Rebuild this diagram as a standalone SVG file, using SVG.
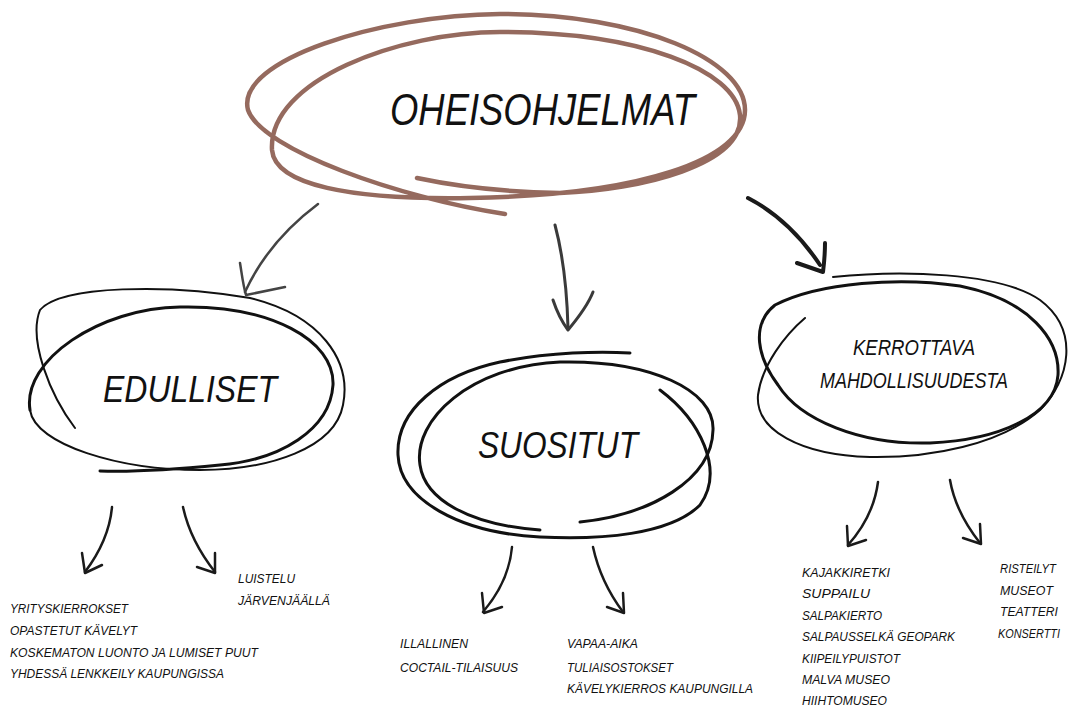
<svg xmlns="http://www.w3.org/2000/svg" width="1073" height="709" viewBox="0 0 1073 709">
<style>
.bg{fill:#ffffff}
.brown{fill:none;stroke:#956a5e;stroke-width:4.5;stroke-linecap:round;stroke-linejoin:round}
.loop{fill:none;stroke:#111;stroke-width:3;stroke-linecap:round;stroke-linejoin:round}
.thin{fill:none;stroke:#111;stroke-width:2;stroke-linecap:round}
.arr{fill:none;stroke:#1a1a1a;stroke-width:2.5;stroke-linecap:round;stroke-linejoin:round}
.head{font-family:"Liberation Sans",Arial,sans-serif;font-style:italic;fill:#111}
.item{font-family:"Liberation Sans",Arial,sans-serif;font-style:italic;font-size:13.5px;fill:#111}
.itemr{font-family:"Liberation Sans",Arial,sans-serif;font-style:italic;font-size:12.5px;fill:#111}
</style>
<rect class="bg" x="0" y="0" width="1073" height="709"/>
<g id="connectors">
  <path class="arr" style="stroke:#444" d="M318 204 C290 225 262 255 245 292"/>
  <path class="arr" style="stroke:#444" d="M240 263 C242 275 243 285 246 295 L285 287"/>
  <path class="arr" style="stroke:#3a3a3a;stroke-width:3" d="M555 225 C563 255 567 290 568 328"/>
  <path class="arr" style="stroke:#3a3a3a;stroke-width:3" d="M553 300 C557 312 562 322 568 330 C578 318 588 305 593 292"/>
  <path class="arr" style="stroke-width:4" d="M748 198 C775 212 800 235 820 265"/>
  <path class="arr" style="stroke-width:4" d="M825 243 C825 255 824 264 823 272 L797 263"/>
  <path class="arr" d="M112 507 C110 530 100 552 85 572"/>
  <path class="arr" d="M82 553 L85 573 L102 565"/>
  <path class="arr" d="M183 507 C188 530 200 553 215 572"/>
  <path class="arr" d="M215 553 L215 573 L197 567"/>
  <path class="arr" d="M512 547 C510 570 500 592 483 612"/>
  <path class="arr" d="M482 593 L484 613 L502 607"/>
  <path class="arr" d="M593 547 C598 570 608 592 623 612"/>
  <path class="arr" d="M623 593 L624 613 L607 607"/>
  <path class="arr" d="M878 482 C875 505 865 526 848 545"/>
  <path class="arr" d="M847 526 L848 546 L866 540"/>
  <path class="arr" d="M950 480 C954 503 965 524 980 543"/>
  <path class="arr" d="M980 524 L981 544 L963 538"/>
</g>
<g id="node-oheisohjelmat">
  <path class="brown" d="M505 214 C400 198 262 150 248 110 C235 60 380 15 500 14 C640 14 745 60 745 110 C745 160 640 195 470 198 C350 200 275 185 272 150 C268 80 400 32 500 32 C640 32 735 70 740 115 C745 165 640 190 560 193 C500 192 450 185 417 178"/>
  <text class="head" x="390" y="125" font-size="44" textLength="305" lengthAdjust="spacingAndGlyphs">OHEISOHJELMAT</text>
</g>
<g id="node-edulliset">
  <path class="thin" d="M75 428 C50 395 28 340 40 310 C60 285 170 284 250 298 C320 315 352 360 343 405 C335 448 270 470 200 470 C120 470 35 445 30 410"/>
  <path class="loop" d="M30 410 C22 360 100 308 180 307 C270 305 335 340 333 385 C330 430 280 460 220 465 C170 470 130 472 100 471"/>
  <text class="head" x="103" y="402" font-size="36" textLength="174" lengthAdjust="spacingAndGlyphs">EDULLISET</text>
</g>
<g id="node-suositut">
  <path class="loop" d="M660 390 C700 420 725 470 700 505 C670 535 600 540 540 537 C460 533 400 500 398 455 C396 410 440 375 500 362 C550 352 600 351 630 353"/>
  <path class="loop" d="M540 530 C470 525 425 500 420 465 C413 420 470 366 560 362 C650 360 715 390 713 430 C712 480 650 515 580 522"/>
  <text class="head" x="478" y="458" font-size="37" textLength="160" lengthAdjust="spacingAndGlyphs">SUOSITUT</text>
</g>
<g id="node-kerrottava">
  <path class="thin" d="M805 318 C785 335 762 365 758 395 C755 430 800 455 870 457 C930 458 1000 445 1040 410 C1070 380 1080 330 1040 300 C1000 272 900 270 833 277"/>
  <path class="loop" d="M775 305 C820 282 900 277 960 286 C1030 300 1060 340 1058 375 C1055 415 1000 440 930 443 C860 445 800 420 778 385 C758 358 750 325 775 305 Z"/>
  <text class="head" x="853" y="355" font-size="22" textLength="122" lengthAdjust="spacingAndGlyphs">KERROTTAVA</text>
  <text class="head" x="820" y="388" font-size="22" textLength="188" lengthAdjust="spacingAndGlyphs">MAHDOLLISUUDESTA</text>
</g>
<g id="list-edulliset">
  <text class="item" x="10" y="613" textLength="118" lengthAdjust="spacingAndGlyphs">YRITYSKIERROKSET</text>
  <text class="item" x="10" y="635" textLength="127" lengthAdjust="spacingAndGlyphs">OPASTETUT KÄVELYT</text>
  <text class="item" x="10" y="657" textLength="248" lengthAdjust="spacingAndGlyphs">KOSKEMATON LUONTO JA LUMISET PUUT</text>
  <text class="item" x="10" y="678" textLength="214" lengthAdjust="spacingAndGlyphs">YHDESSÄ LENKKEILY KAUPUNGISSA</text>
  <text class="item" x="238" y="583" textLength="57" lengthAdjust="spacingAndGlyphs">LUISTELU</text>
  <text class="item" x="238" y="605" textLength="92" lengthAdjust="spacingAndGlyphs">JÄRVENJÄÄLLÄ</text>
</g>
<g id="list-suositut">
  <text class="item" x="400" y="648" textLength="68" lengthAdjust="spacingAndGlyphs">ILLALLINEN</text>
  <text class="item" x="400" y="672" textLength="118" lengthAdjust="spacingAndGlyphs">COCTAIL-TILAISUUS</text>
  <text class="item" x="567" y="648" textLength="71" lengthAdjust="spacingAndGlyphs">VAPAA-AIKA</text>
  <text class="item" x="567" y="672" textLength="106" lengthAdjust="spacingAndGlyphs">TULIAISOSTOKSET</text>
  <text class="item" x="567" y="693" textLength="186" lengthAdjust="spacingAndGlyphs">KÄVELYKIERROS KAUPUNGILLA</text>
</g>
<g id="list-kerrottava">
  <text class="item" x="802" y="577" textLength="88" lengthAdjust="spacingAndGlyphs">KAJAKKIRETKI</text>
  <text class="item" x="802" y="598" textLength="68" lengthAdjust="spacingAndGlyphs">SUPPAILU</text>
  <text class="item" x="802" y="620" textLength="80" lengthAdjust="spacingAndGlyphs">SALPAKIERTO</text>
  <text class="item" x="802" y="641" textLength="153" lengthAdjust="spacingAndGlyphs">SALPAUSSELKÄ GEOPARK</text>
  <text class="item" x="802" y="663" textLength="98" lengthAdjust="spacingAndGlyphs">KIIPEILYPUISTOT</text>
  <text class="item" x="802" y="684" textLength="88" lengthAdjust="spacingAndGlyphs">MALVA MUSEO</text>
  <text class="item" x="802" y="705" textLength="85" lengthAdjust="spacingAndGlyphs">HIIHTOMUSEO</text>
  <text class="itemr" x="1000" y="573" textLength="56" lengthAdjust="spacingAndGlyphs">RISTEILYT</text>
  <text class="itemr" x="1000" y="595" textLength="53" lengthAdjust="spacingAndGlyphs">MUSEOT</text>
  <text class="itemr" x="1000" y="616" textLength="58" lengthAdjust="spacingAndGlyphs">TEATTERI</text>
  <text class="itemr" x="998" y="638" textLength="62" lengthAdjust="spacingAndGlyphs">KONSERTTI</text>
</g>
</svg>
